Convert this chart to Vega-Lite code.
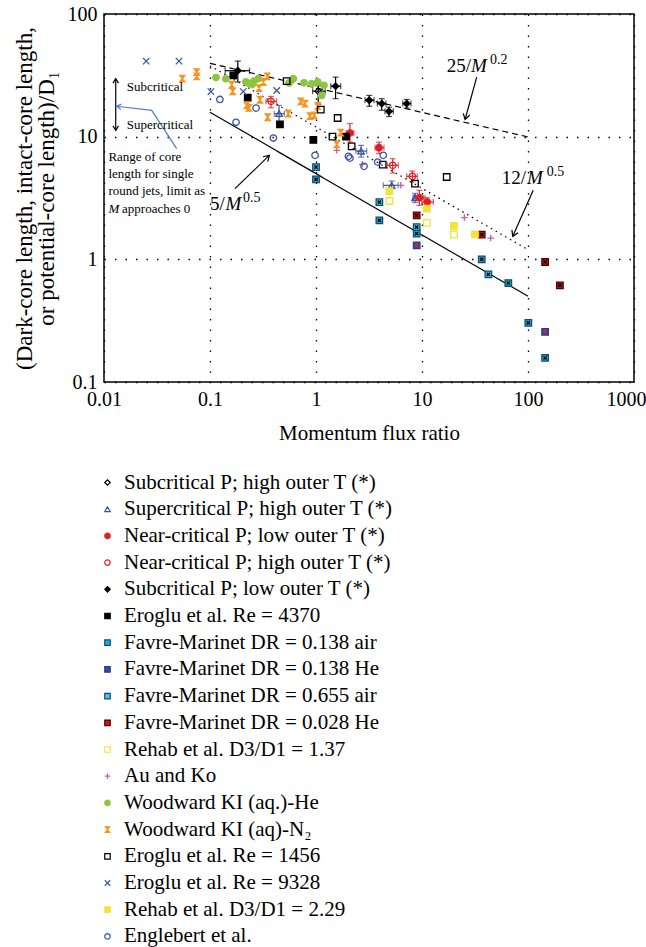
{
  "$schema": "https://vega.github.io/schema/vega-lite/v6.json",
  "autosize": {"type": "none"},
  "padding": {"left": 104, "top": 14, "right": 12, "bottom": 565},
  "width": 530,
  "height": 368,
  "datasets": {
    "pts": [
      {"series": "Subcritical P; high outer T (*)", "x": 1.05, "y": 23.5},
      {"series": "Supercritical P; high outer T (*)", "x": 0.448, "y": 15.4},
      {"series": "Supercritical P; high outer T (*)", "x": 2.66, "y": 7.63},
      {"series": "Supercritical P; high outer T (*)", "x": 5.18, "y": 4.01},
      {"series": "Supercritical P; high outer T (*)", "x": 8.59, "y": 3.18},
      {"series": "Near-critical P; low outer T (*)", "x": 3.93, "y": 8.13},
      {"series": "Near-critical P; low outer T (*)", "x": 2.09, "y": 10.7},
      {"series": "Near-critical P; low outer T (*)", "x": 9.44, "y": 3.18},
      {"series": "Near-critical P; low outer T (*)", "x": 11.2, "y": 2.93},
      {"series": "Near-critical P; high outer T (*)", "x": 0.376, "y": 19.4},
      {"series": "Near-critical P; high outer T (*)", "x": 5.29, "y": 5.84},
      {"series": "Near-critical P; high outer T (*)", "x": 8.11, "y": 4.75},
      {"series": "Subcritical P; low outer T (*)", "x": 0.183, "y": 34.5},
      {"series": "Subcritical P; low outer T (*)", "x": 1.53, "y": 25.8},
      {"series": "Subcritical P; low outer T (*)", "x": 3.18, "y": 19.8},
      {"series": "Subcritical P; low outer T (*)", "x": 4.17, "y": 18.6},
      {"series": "Subcritical P; low outer T (*)", "x": 4.88, "y": 16.1},
      {"series": "Subcritical P; low outer T (*)", "x": 7.17, "y": 18.6},
      {"series": "Eroglu et al. Re = 4370", "x": 0.166, "y": 31.6},
      {"series": "Eroglu et al. Re = 4370", "x": 0.227, "y": 20.8},
      {"series": "Eroglu et al. Re = 4370", "x": 0.457, "y": 12.6},
      {"series": "Eroglu et al. Re = 4370", "x": 0.944, "y": 9.4},
      {"series": "Eroglu et al. Re = 4370", "x": 1.92, "y": 10.0},
      {"series": "Favre-Marinet DR = 0.138 air", "x": 1.0, "y": 4.49},
      {"series": "Favre-Marinet DR = 0.138 air", "x": 3.96, "y": 2.08},
      {"series": "Favre-Marinet DR = 0.138 air", "x": 8.91, "y": 1.62},
      {"series": "Favre-Marinet DR = 0.138 air", "x": 36.6, "y": 1.0},
      {"series": "Favre-Marinet DR = 0.138 air", "x": 65.2, "y": 0.641},
      {"series": "Favre-Marinet DR = 0.138 air", "x": 100.7, "y": 0.303},
      {"series": "Favre-Marinet DR = 0.138 air", "x": 145, "y": 0.157},
      {"series": "Favre-Marinet DR = 0.138 He", "x": 8.91, "y": 1.30},
      {"series": "Favre-Marinet DR = 0.138 He", "x": 145, "y": 0.256},
      {"series": "Favre-Marinet DR = 0.655 air", "x": 1.0, "y": 5.65},
      {"series": "Favre-Marinet DR = 0.655 air", "x": 3.96, "y": 2.93},
      {"series": "Favre-Marinet DR = 0.655 air", "x": 8.91, "y": 1.83},
      {"series": "Favre-Marinet DR = 0.655 air", "x": 42.3, "y": 0.755},
      {"series": "Favre-Marinet DR = 0.028 He", "x": 8.91, "y": 2.28},
      {"series": "Favre-Marinet DR = 0.028 He", "x": 36.6, "y": 1.59},
      {"series": "Favre-Marinet DR = 0.028 He", "x": 145, "y": 0.951},
      {"series": "Favre-Marinet DR = 0.028 He", "x": 200, "y": 0.614},
      {"series": "Rehab et al. D3/D1 = 1.37", "x": 4.92, "y": 2.99},
      {"series": "Rehab et al. D3/D1 = 1.37", "x": 11.1, "y": 1.98},
      {"series": "Rehab et al. D3/D1 = 1.37", "x": 20.0, "y": 1.59},
      {"series": "Au and Ko", "x": 1.57, "y": 7.73},
      {"series": "Au and Ko", "x": 2.73, "y": 5.95},
      {"series": "Au and Ko", "x": 6.30, "y": 4.01},
      {"series": "Au and Ko", "x": 25.1, "y": 2.19},
      {"series": "Au and Ko", "x": 44.5, "y": 1.49},
      {"series": "Woodward KI (aq.)-He", "x": 0.114, "y": 30.3},
      {"series": "Woodward KI (aq.)-He", "x": 0.141, "y": 29.7},
      {"series": "Woodward KI (aq.)-He", "x": 0.218, "y": 28.0},
      {"series": "Woodward KI (aq.)-He", "x": 0.232, "y": 27.2},
      {"series": "Woodward KI (aq.)-He", "x": 0.250, "y": 26.6},
      {"series": "Woodward KI (aq.)-He", "x": 0.260, "y": 28.4},
      {"series": "Woodward KI (aq.)-He", "x": 0.286, "y": 29.7},
      {"series": "Woodward KI (aq.)-He", "x": 0.556, "y": 27.4},
      {"series": "Woodward KI (aq.)-He", "x": 0.611, "y": 29.7},
      {"series": "Woodward KI (aq.)-He", "x": 0.770, "y": 27.5},
      {"series": "Woodward KI (aq.)-He", "x": 0.910, "y": 27.0},
      {"series": "Woodward KI (aq.)-He", "x": 1.04, "y": 27.9},
      {"series": "Woodward KI (aq.)-He", "x": 1.19, "y": 26.2},
      {"series": "Woodward KI (aq.)-He", "x": 1.13, "y": 21.7},
      {"series": "Woodward KI (aq)-N₂", "x": 0.0548, "y": 29.7},
      {"series": "Woodward KI (aq)-N₂", "x": 0.0749, "y": 33.6},
      {"series": "Woodward KI (aq)-N₂", "x": 0.0749, "y": 31.0},
      {"series": "Woodward KI (aq)-N₂", "x": 0.160, "y": 26.5},
      {"series": "Woodward KI (aq)-N₂", "x": 0.164, "y": 23.4},
      {"series": "Woodward KI (aq)-N₂", "x": 0.222, "y": 18.0},
      {"series": "Woodward KI (aq)-N₂", "x": 0.233, "y": 17.2},
      {"series": "Woodward KI (aq)-N₂", "x": 0.290, "y": 24.9},
      {"series": "Woodward KI (aq)-N₂", "x": 0.296, "y": 20.0},
      {"series": "Woodward KI (aq)-N₂", "x": 0.318, "y": 27.9},
      {"series": "Woodward KI (aq)-N₂", "x": 0.347, "y": 31.0},
      {"series": "Woodward KI (aq)-N₂", "x": 0.350, "y": 14.4},
      {"series": "Woodward KI (aq)-N₂", "x": 0.548, "y": 15.4},
      {"series": "Woodward KI (aq)-N₂", "x": 0.718, "y": 19.4},
      {"series": "Woodward KI (aq)-N₂", "x": 0.787, "y": 18.6},
      {"series": "Woodward KI (aq)-N₂", "x": 0.878, "y": 14.7},
      {"series": "Woodward KI (aq)-N₂", "x": 0.964, "y": 14.9},
      {"series": "Woodward KI (aq)-N₂", "x": 1.04, "y": 17.8},
      {"series": "Woodward KI (aq)-N₂", "x": 1.71, "y": 10.8},
      {"series": "Woodward KI (aq)-N₂", "x": 1.57, "y": 8.65},
      {"series": "Eroglu et al. Re = 1456", "x": 0.529, "y": 28.4},
      {"series": "Eroglu et al. Re = 1456", "x": 1.11, "y": 16.6},
      {"series": "Eroglu et al. Re = 1456", "x": 1.60, "y": 14.2},
      {"series": "Eroglu et al. Re = 1456", "x": 1.43, "y": 10.0},
      {"series": "Eroglu et al. Re = 1456", "x": 2.17, "y": 8.34},
      {"series": "Eroglu et al. Re = 1456", "x": 4.26, "y": 5.91},
      {"series": "Eroglu et al. Re = 1456", "x": 8.59, "y": 4.14},
      {"series": "Eroglu et al. Re = 1456", "x": 17.1, "y": 4.69},
      {"series": "Eroglu et al. Re = 9328", "x": 0.025, "y": 41.3},
      {"series": "Eroglu et al. Re = 9328", "x": 0.051, "y": 41.3},
      {"series": "Eroglu et al. Re = 9328", "x": 0.102, "y": 23.3},
      {"series": "Eroglu et al. Re = 9328", "x": 0.206, "y": 23.3},
      {"series": "Eroglu et al. Re = 9328", "x": 0.426, "y": 23.8},
      {"series": "Rehab et al. D3/D1 = 2.29", "x": 4.92, "y": 3.60},
      {"series": "Rehab et al. D3/D1 = 2.29", "x": 11.1, "y": 2.59},
      {"series": "Rehab et al. D3/D1 = 2.29", "x": 20.0, "y": 1.87},
      {"series": "Rehab et al. D3/D1 = 2.29", "x": 31.6, "y": 1.60},
      {"series": "Englebert et al.", "x": 0.124, "y": 20.1},
      {"series": "Englebert et al.", "x": 0.176, "y": 13.1},
      {"series": "Englebert et al.", "x": 0.272, "y": 17.1},
      {"series": "Englebert et al.", "x": 0.396, "y": 9.75},
      {"series": "Englebert et al.", "x": 0.98, "y": 7.04},
      {"series": "Englebert et al.", "x": 2.02, "y": 6.91},
      {"series": "Englebert et al.", "x": 2.09, "y": 6.69},
      {"series": "Englebert et al.", "x": 2.84, "y": 5.73},
      {"series": "Englebert et al.", "x": 3.82, "y": 6.21},
      {"series": "Englebert et al.", "x": 4.31, "y": 7.04}
    ],
    "err": [
      {"series": "Subcritical P; low outer T (*)", "x": 0.183, "y": 34.5, "xlo": 0.139, "xhi": 0.236, "ylo": 27.9, "yhi": 41.3},
      {"series": "Subcritical P; low outer T (*)", "x": 1.53, "y": 25.8, "xlo": 1.38, "xhi": 1.71, "ylo": 20.4, "yhi": 30.6},
      {"series": "Subcritical P; low outer T (*)", "x": 3.18, "y": 19.8, "xlo": 2.90, "xhi": 3.53, "ylo": 17.7, "yhi": 21.7},
      {"series": "Subcritical P; low outer T (*)", "x": 4.17, "y": 18.6, "xlo": 3.79, "xhi": 4.57, "ylo": 16.4, "yhi": 20.4},
      {"series": "Subcritical P; low outer T (*)", "x": 4.88, "y": 16.1, "xlo": 4.48, "xhi": 5.36, "ylo": 14.6, "yhi": 17.4},
      {"series": "Subcritical P; low outer T (*)", "x": 7.17, "y": 18.6, "xlo": 6.58, "xhi": 7.87, "ylo": 17.1, "yhi": 20.1},
      {"series": "Subcritical P; high outer T (*)", "x": 1.05, "y": 23.5, "xlo": 0.93, "xhi": 1.22, "ylo": 18.4, "yhi": 26.0},
      {"series": "Supercritical P; high outer T (*)", "x": 0.448, "y": 15.4, "xlo": 0.404, "xhi": 0.502, "ylo": 13.1, "yhi": 18.0},
      {"series": "Supercritical P; high outer T (*)", "x": 2.66, "y": 7.63, "xlo": 2.38, "xhi": 3.01, "ylo": 6.82, "yhi": 8.49},
      {"series": "Supercritical P; high outer T (*)", "x": 5.18, "y": 4.01, "xlo": 4.31, "xhi": 5.97, "ylo": 3.77, "yhi": 4.35},
      {"series": "Supercritical P; high outer T (*)", "x": 8.59, "y": 3.18, "xlo": 8.28, "xhi": 10.3, "ylo": 2.9, "yhi": 3.45},
      {"series": "Near-critical P; low outer T (*)", "x": 3.93, "y": 8.13, "xlo": 3.60, "xhi": 4.38, "ylo": 7.27, "yhi": 9.03},
      {"series": "Near-critical P; low outer T (*)", "x": 2.09, "y": 10.7, "xlo": 1.92, "xhi": 2.28, "ylo": 9.03, "yhi": 12.8},
      {"series": "Near-critical P; low outer T (*)", "x": 9.44, "y": 3.18, "xlo": 8.28, "xhi": 10.7, "ylo": 2.75, "yhi": 3.65},
      {"series": "Near-critical P; low outer T (*)", "x": 11.2, "y": 2.93, "xlo": 9.94, "xhi": 12.8, "ylo": 2.64, "yhi": 3.18},
      {"series": "Near-critical P; high outer T (*)", "x": 0.376, "y": 19.4, "xlo": 0.337, "xhi": 0.426, "ylo": 17.2, "yhi": 21.3},
      {"series": "Near-critical P; high outer T (*)", "x": 5.29, "y": 5.84, "xlo": 4.71, "xhi": 5.97, "ylo": 5.05, "yhi": 6.62},
      {"series": "Near-critical P; high outer T (*)", "x": 8.11, "y": 4.75, "xlo": 7.17, "xhi": 9.03, "ylo": 4.27, "yhi": 5.25}
    ],
    "lines": [
      {"f": "25/M^0.2", "x": 0.1, "y": 39.6},
      {"f": "25/M^0.2", "x": 100, "y": 9.95},
      {"f": "12/M^0.5", "x": 0.1, "y": 37.9},
      {"f": "12/M^0.5", "x": 100, "y": 1.2},
      {"f": "5/M^0.5", "x": 0.1, "y": 15.8},
      {"f": "5/M^0.5", "x": 100, "y": 0.5}
    ],
    "arrows": [
      {"x": 32.8, "y": 30.6, "x2": 25.5, "y2": 13.8},
      {"x": 112, "y": 3.65, "x2": 71.8, "y2": 1.54},
      {"x": 0.172, "y": 3.77, "x2": 0.363, "y2": 7.04},
      {"x": 0.0129, "y": 29.7, "x2": 0.0129, "y2": 11.25}
    ],
    "blue": [
      {"i": 1, "x": 0.0485, "y": 7.98},
      {"i": 2, "x": 0.0282, "y": 16.4},
      {"i": 3, "x": 0.01318, "y": 17.7}
    ],
    "notes": [
      {"k": "s", "t": "Subcritical", "x": 0.0164, "y": 25.4},
      {"k": "s", "t": "Supercritical", "x": 0.0164, "y": 12.4},
      {"k": "s", "t": "Range of core", "x": 0.011, "y": 6.82},
      {"k": "s", "t": "length for single", "x": 0.011, "y": 4.99},
      {"k": "s", "t": "round jets, limit as", "x": 0.011, "y": 3.60},
      {"k": "si", "t": "M", "x": 0.011, "y": 2.59},
      {"k": "s", "t": "approaches 0", "x": 0.0148, "y": 2.59},
      {"k": "f", "t": "25/", "x": 17.1, "y": 33.6},
      {"k": "f", "t": "12/", "x": 56.5, "y": 4.14},
      {"k": "f", "t": "5/", "x": 0.1, "y": 2.51},
      {"k": "fi", "t": "M", "x": 29.0, "y": 33.6},
      {"k": "fi", "t": "M", "x": 97.8, "y": 4.14},
      {"k": "fi", "t": "M", "x": 0.14, "y": 2.51},
      {"k": "sup", "t": "0.2", "x": 43.8, "y": 39.0},
      {"k": "sup", "t": "0.5", "x": 150, "y": 4.81},
      {"k": "sup", "t": "0.5", "x": 0.205, "y": 2.92}
    ]
  },
  "encoding": {
    "x": {
      "field": "x", "type": "quantitative",
      "scale": {"type": "log", "domain": [0.01, 1000], "nice": false},
      "axis": {
        "values": [0.01, 0.1, 1, 10, 100, 1000], "format": "~g",
        "title": "Momentum flux ratio", "labelFlush": false,
        "labelOffset": {"condition": {"test": "datum.value == 1000", "value": -8}, "value": 0},
        "labelPadding": 7, "titlePadding": 13, "titleFontSize": 21
      }
    },
    "y": {
      "field": "y", "type": "quantitative",
      "scale": {"type": "log", "domain": [0.1, 100], "nice": false},
      "axis": {
        "values": [0.1, 1, 10, 100], "format": "~g", "labelFlush": false,
        "title": ["(Dark-core length, intact-core length,", "or potential-core length)/D₁"],
        "labelPadding": 7, "titlePadding": 9, "titleFontSize": 23, "titleLineHeight": 22
      }
    }
  },
  "layer": [
    {
      "data": {"name": "lines"},
      "mark": {"type": "line", "color": "#000", "strokeWidth": 1.2},
      "encoding": {
        "detail": {"field": "f"},
        "strokeDash": {"field": "f", "type": "nominal", "legend": null,
          "scale": {"domain": ["25/M^0.2", "12/M^0.5", "5/M^0.5"], "range": [[6, 4], [1.5, 4], [1, 0]]}}
      }
    },
    {
      "data": {"name": "arrows"},
      "mark": {"type": "rule", "color": "#000", "strokeWidth": 1.2},
      "encoding": {"x2": {"field": "x2"}, "y2": {"field": "y2"}}
    },
    {
      "data": {"name": "blue"},
      "mark": {"type": "line", "color": "#4f81bd", "strokeWidth": 1.2},
      "encoding": {"order": {"field": "i"}}
    },
    {
      "data": {"values": [{"x": 25.5, "y": 13.8}]},
      "mark": {"type": "point", "shape": "M-0.55,0.9L0,0L0.55,0.9", "size": 150, "angle": 195, "filled": false, "stroke": "#000", "strokeWidth": 1.2, "opacity": 1},
      "encoding": {}
    },
    {
      "data": {"values": [{"x": 71.8, "y": 1.54}]},
      "mark": {"type": "point", "shape": "M-0.55,0.9L0,0L0.55,0.9", "size": 150, "angle": 204, "filled": false, "stroke": "#000", "strokeWidth": 1.2, "opacity": 1},
      "encoding": {}
    },
    {
      "data": {"values": [{"x": 0.363, "y": 7.04}]},
      "mark": {"type": "point", "shape": "M-0.55,0.9L0,0L0.55,0.9", "size": 150, "angle": 46, "filled": false, "stroke": "#000", "strokeWidth": 1.2, "opacity": 1},
      "encoding": {}
    },
    {
      "data": {"values": [{"x": 0.0129, "y": 29.7}]},
      "mark": {"type": "point", "shape": "M-0.55,0.9L0,0L0.55,0.9", "size": 100, "angle": 0, "filled": false, "stroke": "#000", "strokeWidth": 1.2, "opacity": 1},
      "encoding": {}
    },
    {
      "data": {"values": [{"x": 0.0129, "y": 11.25}]},
      "mark": {"type": "point", "shape": "M-0.55,0.9L0,0L0.55,0.9", "size": 100, "angle": 180, "filled": false, "stroke": "#000", "strokeWidth": 1.2, "opacity": 1},
      "encoding": {}
    },
    {
      "data": {"values": [{"x": 0.01318, "y": 17.7}]},
      "mark": {"type": "point", "shape": "M-0.55,0.9L0,0L0.55,0.9", "size": 100, "angle": 277, "filled": false, "stroke": "#4f81bd", "strokeWidth": 1.2, "opacity": 1},
      "encoding": {}
    },
    {
      "data": {"name": "err"},
      "mark": {"type": "errorbar", "ticks": {"size": 6}, "thickness": 1.2},
      "encoding": {
        "x": {"field": "xlo", "type": "quantitative", "title": "Momentum flux ratio"},
        "x2": {"field": "xhi"},
        "color": {"field": "series", "type": "nominal", "legend": null,
          "scale": {"domain": ["Subcritical P; high outer T (*)", "Supercritical P; high outer T (*)", "Near-critical P; low outer T (*)", "Near-critical P; high outer T (*)", "Subcritical P; low outer T (*)"],
            "range": ["#000000", "#3a53a4", "#e31e24", "#e31e24", "#000000"]}}
      }
    },
    {
      "data": {"name": "err"},
      "mark": {"type": "errorbar", "ticks": {"size": 6}, "thickness": 1.2},
      "encoding": {
        "y": {"field": "ylo", "type": "quantitative", "title": ["(Dark-core length, intact-core length,", "or potential-core length)/D₁"]},
        "y2": {"field": "yhi"},
        "color": {"field": "series", "type": "nominal", "legend": null}
      }
    },
    {
      "data": {"name": "pts"},
      "mark": {"type": "point", "size": 42, "strokeWidth": 1.3, "opacity": 1},
      "encoding": {
        "fill": {"field": "series", "type": "nominal", "legend": {"title": null},
          "scale": {"domain": ["Subcritical P; high outer T (*)", "Supercritical P; high outer T (*)", "Near-critical P; low outer T (*)", "Near-critical P; high outer T (*)", "Subcritical P; low outer T (*)", "Eroglu et al. Re = 4370", "Favre-Marinet DR = 0.138 air", "Favre-Marinet DR = 0.138 He", "Favre-Marinet DR = 0.655 air", "Favre-Marinet DR = 0.028 He", "Rehab et al. D3/D1 = 1.37", "Au and Ko", "Woodward KI (aq.)-He", "Woodward KI (aq)-N₂", "Eroglu et al. Re = 1456", "Eroglu et al. Re = 9328", "Rehab et al. D3/D1 = 2.29", "Englebert et al."],
            "range": ["transparent", "transparent", "#e31e24", "transparent", "#000000", "#000000", "#27aae1", "#3a4ea0", "#4fc0ea", "#c4161c", "transparent", "#c25bb0", "#8cc63f", "#f7941d", "transparent", "#3a53a4", "#f2e33c", "transparent"]}},
        "stroke": {"field": "series", "type": "nominal", "legend": {"title": null},
          "scale": {"domain": ["Subcritical P; high outer T (*)", "Supercritical P; high outer T (*)", "Near-critical P; low outer T (*)", "Near-critical P; high outer T (*)", "Subcritical P; low outer T (*)", "Eroglu et al. Re = 4370", "Favre-Marinet DR = 0.138 air", "Favre-Marinet DR = 0.138 He", "Favre-Marinet DR = 0.655 air", "Favre-Marinet DR = 0.028 He", "Rehab et al. D3/D1 = 1.37", "Au and Ko", "Woodward KI (aq.)-He", "Woodward KI (aq)-N₂", "Eroglu et al. Re = 1456", "Eroglu et al. Re = 9328", "Rehab et al. D3/D1 = 2.29", "Englebert et al."],
            "range": ["#000000", "#3a53a4", "#e31e24", "#e31e24", "#000000", "#000000", "#0b4f6c", "#2a3a80", "#0b4f6c", "#500000", "#f2e33c", "#c25bb0", "#8cc63f", "#f7941d", "#000000", "#3a53a4", "#f2e33c", "#3a53a4"]}},
        "shape": {"field": "series", "type": "nominal", "legend": {"title": null},
          "scale": {"domain": ["Subcritical P; high outer T (*)", "Supercritical P; high outer T (*)", "Near-critical P; low outer T (*)", "Near-critical P; high outer T (*)", "Subcritical P; low outer T (*)", "Eroglu et al. Re = 4370", "Favre-Marinet DR = 0.138 air", "Favre-Marinet DR = 0.138 He", "Favre-Marinet DR = 0.655 air", "Favre-Marinet DR = 0.028 He", "Rehab et al. D3/D1 = 1.37", "Au and Ko", "Woodward KI (aq.)-He", "Woodward KI (aq)-N₂", "Eroglu et al. Re = 1456", "Eroglu et al. Re = 9328", "Rehab et al. D3/D1 = 2.29", "Englebert et al."],
            "range": ["diamond", "triangle-up", "circle", "circle", "diamond", "square",
              "square", "square", "square", "square",
              "square", "M-1,0H1M0,-1V1", "circle", "M-0.8,-1H0.8L-0.8,1H0.8Z", "square", "M-1,-1L1,1M-1,1L1,-1", "square", "circle"]}}
      }
    },
    {
      "data": {"name": "pts"},
      "transform": [{"filter": {"field": "series", "oneOf": ["Favre-Marinet DR = 0.138 air", "Favre-Marinet DR = 0.655 air", "Favre-Marinet DR = 0.028 He"]}}],
      "mark": {"type": "point", "shape": "M-0.5,-0.5L0.5,0.5M-0.5,0.5L0.5,-0.5", "size": 42, "filled": false, "stroke": "#000", "strokeWidth": 1.3, "opacity": 1},
      "encoding": {}
    },
    {
      "data": {"name": "pts"},
      "transform": [{"filter": {"field": "series", "equal": "Favre-Marinet DR = 0.138 He"}}],
      "mark": {"type": "point", "shape": "M0,-0.6V0.6M-0.6,0H0.6", "size": 42, "filled": false, "stroke": "#e31e24", "strokeWidth": 1.4, "opacity": 1},
      "encoding": {}
    },
    {
      "data": {"name": "notes"},
      "transform": [{"filter": "datum.k == 's'"}],
      "mark": {"type": "text", "align": "left", "baseline": "middle", "fontSize": 13, "font": "Liberation Serif", "color": "#000"},
      "encoding": {"text": {"field": "t"}}
    },
    {
      "data": {"name": "notes"},
      "transform": [{"filter": "datum.k == 'si'"}],
      "mark": {"type": "text", "align": "left", "baseline": "middle", "fontSize": 13, "fontStyle": "italic", "font": "Liberation Serif", "color": "#000"},
      "encoding": {"text": {"field": "t"}}
    },
    {
      "data": {"name": "notes"},
      "transform": [{"filter": "datum.k == 'f'"}],
      "mark": {"type": "text", "align": "left", "baseline": "alphabetic", "fontSize": 19, "font": "Liberation Serif", "color": "#000"},
      "encoding": {"text": {"field": "t"}}
    },
    {
      "data": {"name": "notes"},
      "transform": [{"filter": "datum.k == 'fi'"}],
      "mark": {"type": "text", "align": "left", "baseline": "alphabetic", "fontSize": 19, "fontStyle": "italic", "font": "Liberation Serif", "color": "#000"},
      "encoding": {"text": {"field": "t"}}
    },
    {
      "data": {"name": "notes"},
      "transform": [{"filter": "datum.k == 'sup'"}],
      "mark": {"type": "text", "align": "left", "baseline": "alphabetic", "fontSize": 14, "font": "Liberation Serif", "color": "#000"},
      "encoding": {"text": {"field": "t"}}
    }
  ],
  "config": {
    "font": "Liberation Serif",
    "view": {"stroke": "#000", "strokeWidth": 1.5},
    "axis": {
      "grid": true, "gridColor": "#000", "gridDash": [1.5, 9], "gridWidth": 1.3, "gridOpacity": 1,
      "ticks": false, "domain": false,
      "labelFont": "Liberation Serif", "labelFontSize": 20, "labelColor": "#000",
      "titleFont": "Liberation Serif", "titleFontSize": 20, "titleColor": "#000", "titleFontWeight": "normal"
    },
    "legend": {
      "orient": "none", "legendX": -7, "legendY": 458, "direction": "vertical",
      "labelFont": "Liberation Serif", "labelFontSize": 21, "labelColor": "#000",
      "symbolSize": 30, "symbolStrokeWidth": 1.2, "symbolOpacity": 1,
      "rowPadding": 4.7, "labelOffset": 6, "padding": 0, "symbolLimit": 40, "labelLimit": 500
    }
  }
}
